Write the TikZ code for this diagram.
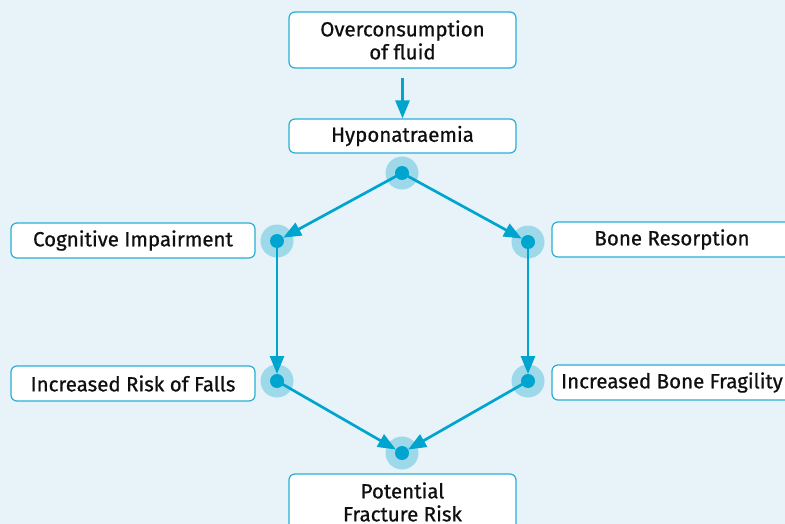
\documentclass[tikz,border=0pt]{standalone}
\usepackage{fontspec}
\setmainfont{Fira Sans}[UprightFeatures={FakeBold=0.7}]
\usetikzlibrary{arrows.meta}
\definecolor{bg}{RGB}{232,243,249}
\definecolor{cy}{RGB}{0,165,207}
\definecolor{halo}{RGB}{158,217,234}
\definecolor{bord}{RGB}{40,175,212}
\definecolor{txt}{RGB}{15,15,15}
\tikzset{
  box/.style={draw=bord, line width=1.2pt, fill=white, rounded corners=6pt, inner sep=0pt, align=center, font=\fontsize{20.5}{23}\selectfont, text=txt},
  halonode/.style={circle, fill=halo, minimum size=33pt, inner sep=0pt},
  dotnode/.style={circle, fill=cy, minimum size=14pt, inner sep=0pt},
  arr/.style={draw=cy, line width=2.7pt, -{Triangle[length=18pt,width=14pt]}},
}
\begin{document}
\begin{tikzpicture}[x=1pt,y=-1pt]
\fill[bg] (0,0) rectangle (785,524);
\useasboundingbox (0,0) rectangle (785,524);
% boxes
\node[box, minimum width=227pt, minimum height=56pt] (over) at (402.5,40) {Overconsumption\\of fluid};
\node[box, minimum width=227pt, minimum height=34pt] (hypo) at (402.5,136) {Hyponatraemia};
\node[box, minimum width=244pt, minimum height=35pt] (cog) at (133,240.5) {Cognitive Impairment};
\node[box, minimum width=244pt, minimum height=35pt] (falls) at (133,383.5) {Increased Risk of Falls};
\node[box, minimum width=240pt, minimum height=35pt] (bone) at (672,239.5) {Bone Resorption};
\node[box, minimum width=240pt, minimum height=35pt] (frag) at (672,382.5) {Increased Bone Fragility};
\node[box, minimum width=227pt, minimum height=56pt] (frac) at (402.5,502) {Potential\\Fracture Risk};
% halos
\node[halonode] (h0) at (402,173) {};
\node[halonode] (h1) at (277,241) {};
\node[halonode] (h2) at (528,242) {};
\node[halonode] (h3) at (277,381) {};
\node[halonode] (h4) at (528,381) {};
\node[halonode] (h5) at (402,453) {};
% arrows
\draw[arr] (over.south) ++(0,9) coordinate (a0) -- (hypo.north);
\draw[arr, shorten >=7pt] (h0.center) -- (h1.center);
\draw[arr, shorten >=7pt] (h0.center) -- (h2.center);
\draw[arr, shorten >=7pt] (h1.center) -- (h3.center);
\draw[arr, shorten >=7pt] (h2.center) -- (h4.center);
\draw[arr, shorten >=7pt] (h3.center) -- (h5.center);
\draw[arr, shorten >=7pt] (h4.center) -- (h5.center);
% dots
\foreach \i in {0,...,5} \node[dotnode] (d\i) at (h\i) {};
\end{tikzpicture}
\end{document}
